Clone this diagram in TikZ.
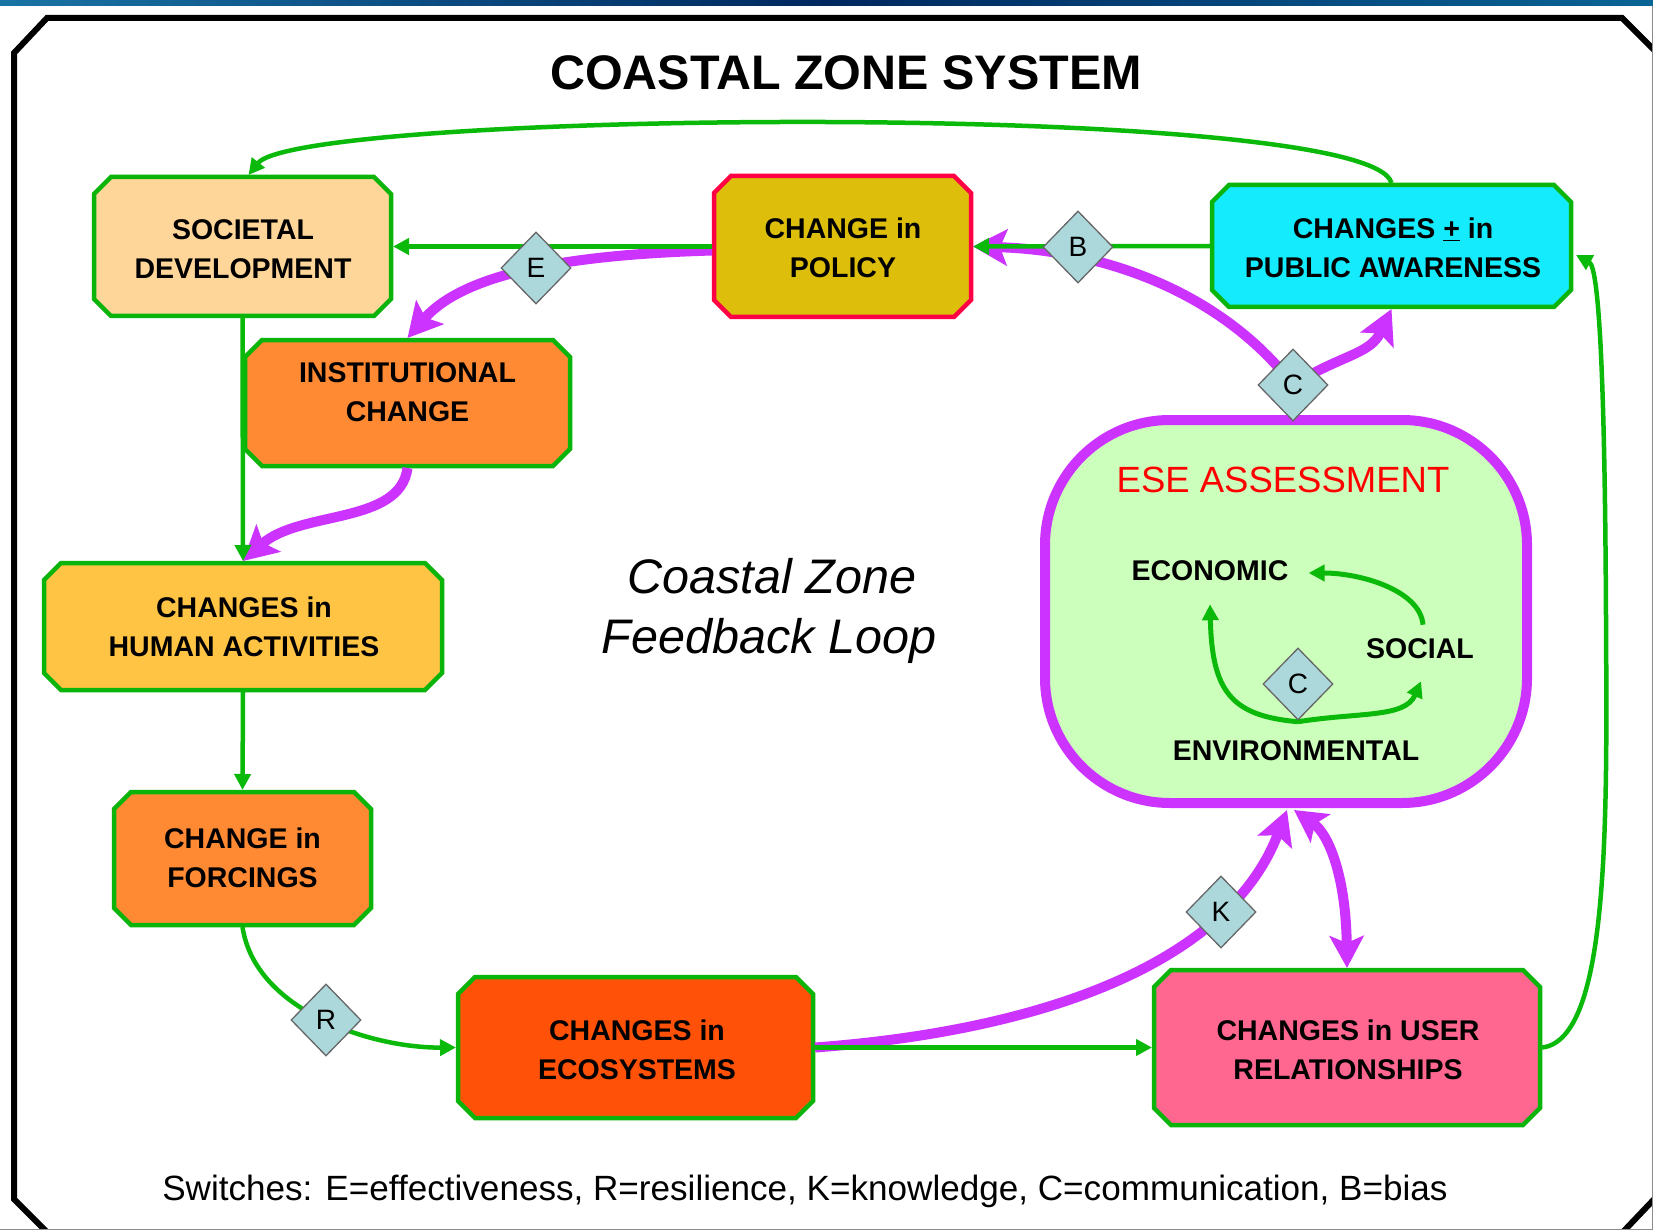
\documentclass[tikz,border=0pt]{standalone}
\usepackage{fontspec}
\setmainfont{Liberation Sans}
\usetikzlibrary{arrows.meta,shapes.geometric,calc}
\definecolor{gbord}{RGB}{10,180,10}
\definecolor{garrow}{RGB}{10,185,10}
\definecolor{purp}{RGB}{204,51,255}
\definecolor{socf}{RGB}{255,214,153}
\definecolor{polf}{RGB}{221,191,11}
\definecolor{polb}{RGB}{255,0,68}
\definecolor{paf}{RGB}{20,235,252}
\definecolor{insf}{RGB}{255,138,51}
\definecolor{humf}{RGB}{255,196,68}
\definecolor{ecof}{RGB}{255,82,8}
\definecolor{usrf}{RGB}{255,102,144}
\definecolor{esef}{RGB}{204,255,187}
\definecolor{swf}{RGB}{172,216,220}
\definecolor{barL}{RGB}{25,115,165}
\definecolor{barM}{RGB}{0,40,95}
\definecolor{barR}{RGB}{10,100,150}
\newcommand\chbox[7]{%
  \path[fill=#6, draw=#7, line width=4.5pt, line join=miter]
    ({#2+19},{#3+2}) -- ({#4-19},{#3+2}) -- ({#4-2},{#3+19}) -- ({#4-2},{#5-19})
    -- ({#4-19},{#5-2}) -- ({#2+19},{#5-2}) -- ({#2+2},{#5-19}) -- ({#2+2},{#3+19}) -- cycle;
  \node[inner sep=0pt, outer sep=0pt, minimum width={#4-#2}, minimum height={#5-#3}] (#1) at ({(#2+#4)/2},{(#3+#5)/2}) {};
}
\tikzset{
  btext/.style={align=center, font=\bfseries\fontsize{28.5}{39}\selectfont, inner sep=0pt},
  sw/.style={diamond, draw=black!60, line width=1.3pt, fill=swf, minimum width=70pt, minimum height=72pt, inner sep=0pt, font=\fontsize{28}{30}\selectfont},
  garr/.style={draw=garrow, line width=4.5pt, -{Triangle[length=16pt,width=16pt]}},
  parr/.style={draw=purp, line width=10pt, -{Stealth[length=34pt,width=36pt,inset=7pt]}},
  pdbl/.style={draw=purp, line width=10pt, {Stealth[length=32pt,width=34pt,inset=7pt]}-{Stealth[length=32pt,width=34pt,inset=7pt]}},
}
\begin{document}
\begin{tikzpicture}[x=1pt,y=-1pt]
\useasboundingbox (0,0) rectangle (1653,1230);
\fill[white] (0,0) rectangle (1653,1230);
\begin{scope}
\clip (0,0) rectangle (1653,1230);
\shade[left color=barL, right color=barR, middle color=barM] (0,0) rectangle (1653,6);
\draw[black, line width=6pt, line join=miter] (47,18) -- (1622,18) -- (1660,56) -- (1660,1193) -- (1621,1234) -- (49,1234) -- (14,1199) -- (14,53) -- cycle;
\draw[black!45, line width=1.2pt] (0,1229.4) -- (1653,1229.4) (1652.4,6) -- (1652.4,1230);
\end{scope}

\node[font=\bfseries\fontsize{48.5}{50}\selectfont, anchor=base] (title) at (846,90) {COASTAL ZONE SYSTEM};

% ESE assessment box
\node[draw=purp, line width=10pt, fill=esef, rounded corners=125pt, minimum width=482pt, minimum height=383pt, inner sep=0pt, outer sep=0pt] (ESE) at (1286,611.5) {};

% boxes
\chbox{SOC}{92}{175}{393}{318}{socf}{gbord}
\chbox{POL}{712}{174}{973}{319}{polf}{polb}
\chbox{PA}{1210}{183}{1573}{309}{paf}{gbord}
\chbox{INS}{243}{338}{572}{468}{insf}{gbord}
\chbox{HUM}{42}{561}{444}{692}{humf}{gbord}
\chbox{FOR}{112}{790}{373}{927}{insf}{gbord}
\chbox{ECO}{456}{975}{815}{1120}{ecof}{gbord}
\chbox{USR}{1152}{968}{1542}{1127}{usrf}{gbord}

% switch positions
\coordinate (pE) at (536,268);
\coordinate (pB) at (1078,247);
\coordinate (pC1) at (1293,385);
\coordinate (pC2) at (1298,684);
\coordinate (pK) at (1221,912);
\coordinate (pR) at (326,1020);
\coordinate (eseb) at ($(ESE.south)+(1,7)$);
\coordinate (eseb2) at ($(ESE.south)+(8,7)$);
\coordinate (paE) at ($(PA.east)+(3,9)$);

% purple connectors
\draw[parr] ([yshift=-4pt]POL.west) .. controls (600,254) and (470,266) .. (INS.north);
\draw[parr] (INS.south) .. controls (400,525) and (300,510) .. (HUM.north);
\draw[parr] (pC1) .. controls (1220,290) and (1100,250) .. (POL.east);
\draw[parr] (pC1) .. controls (1340,355) and (1370,355) .. (PA.south);
\draw[parr] (ECO.east) .. controls (1050,1030) and (1230,960) .. (eseb);
\draw[pdbl] (eseb2) .. controls (1330,835) and (1346,880) .. (USR.north);

% green connectors
\draw[garr] (PA.north) .. controls (1370,100) and (300,110) .. ([xshift=6pt]SOC.north);
\draw[garr] (PA.west) -- (POL.east);
\draw[garr] (POL.west) -- (SOC.east);
\draw[garr] (SOC.south) -- (HUM.north);
\draw[garr] (HUM.south) -- (FOR.north);
\draw[garr] (FOR.south) .. controls (255,1010) and (370,1048) .. (ECO.west);
\draw[garr] (ECO.east) -- (USR.west);
\draw[garr] (USR.east) .. controls (1610,1040) and (1607,820) .. (1606,620) .. controls (1605,400) and (1600,268) .. (paE);

% box texts
\node[btext] (SOCt) at (243,249.5) {SOCIETAL\\DEVELOPMENT};
\node[btext] (POLt) at (843,248) {CHANGE in\\POLICY};
\node[btext] (PAt) at (1393,248) {CHANGES \underline{+} in\\PUBLIC AWARENESS};
\node[btext] (INSt) at (407.5,392) {INSTITUTIONAL\\CHANGE};
\node[btext] (HUMt) at (244,627) {CHANGES in\\HUMAN ACTIVITIES};
\node[btext] (FORt) at (242.5,858) {CHANGE in\\FORCINGS};
\node[btext] (ECOt) at (637,1049.5) {CHANGES in\\ECOSYSTEMS};
\node[btext] (USRt) at (1348,1050) {CHANGES in USER\\RELATIONSHIPS};

% ESE contents
\node[font=\fontsize{36.5}{40}\selectfont, text=red, inner sep=0pt] (eset) at (1283,480) {ESE ASSESSMENT};
\node[btext] (ECON) at (1210,571) {ECONOMIC};
\node[btext] (SOCL) at (1420,649) {SOCIAL};
\node[btext] (ENV) at (1296,751) {ENVIRONMENTAL};
\coordinate (envtop) at ($(ENV.north)+(2,-19)$);
\coordinate (econb) at ($(ECON.south)+(0,23)$);
\coordinate (econr) at ($(ECON.east)+(20,2)$);
\coordinate (socb) at ($(SOCL.south)+(1,22)$);
\coordinate (soct) at ($(SOCL.north)+(3,-14)$);
\draw[garr, line width=5pt] (envtop) .. controls (1230,716) and (1212,690) .. (econb);
\draw[garr, line width=5pt] (envtop) .. controls (1360,712) and (1405,718) .. (socb);
\draw[garr, line width=5pt] (soct) .. controls (1420,590) and (1360,573) .. (econr);

% centre text
\node[font=\itshape\fontsize{48.5}{55}\selectfont, anchor=base] (cz1) at (772,593) {Coastal Zone};
\node[font=\itshape\fontsize{48.5}{55}\selectfont, anchor=base] (cz2) at (769,653) {Feedback Loop};

% switches
\node[sw] (E) at (pE) {E};
\node[sw] (B) at (pB) {B};
\node[sw] (C1) at (pC1) {C};
\node[sw] (C2) at (pC2) {C};
\node[sw] (K) at (pK) {K};
\node[sw] (R) at (pR) {R};

\node[font=\fontsize{35.1}{40}\selectfont, anchor=base] (cap) at (805,1200) {Switches: E=effectiveness, R=resilience, K=knowledge, C=communication, B=bias};
\end{tikzpicture}
\end{document}
